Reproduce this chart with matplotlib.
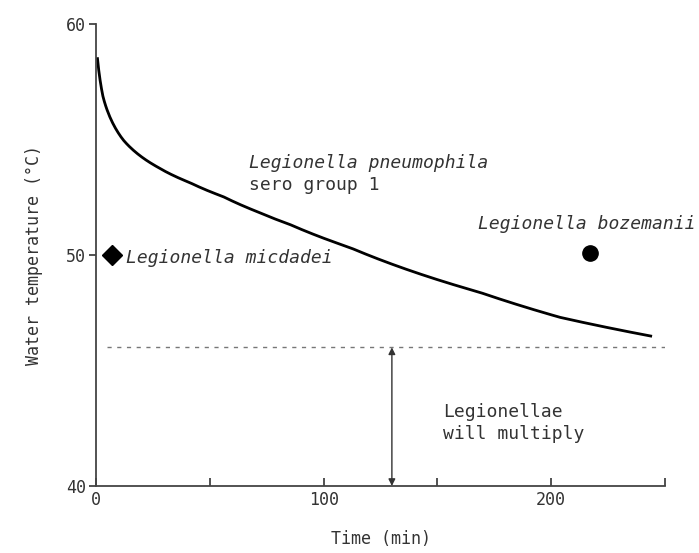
import numpy as np
import matplotlib
matplotlib.use('Agg')
import matplotlib.pyplot as plt

# cooling curve of the water
time_min = [0.6, 3.1, 11.9, 26.8, 41.3, 55.8, 70.7, 85.2, 111.6, 168.7, 203.9, 244.3]
water_temp = [58.56, 56.85, 54.99, 53.82, 53.13, 52.53, 51.88, 51.32, 50.32, 48.38, 47.30, 46.48]

# species points
micdadei_t, micdadei_T = 7, 50.0
bozemanii_t, bozemanii_T = 217, 50.1

# threshold below which legionellae multiply
multiply_T = 46.0
arrow_t = 130

x_ticks = [0, 50, 100, 150, 200, 250]
x_labels = ['0', '', '100', '', '200', '']
y_ticks = [40, 50, 60]

plt.rcParams['font.family'] = ['DejaVu Sans Mono', 'DejaVu Sans']

# smooth the read points a bit, interpolating in log time
t_arr = np.array(time_min)
T_arr = np.array(water_temp)
t_fine = np.linspace(t_arr[0], t_arr[-1], 400)
T_fine = np.interp(np.log(t_fine + 1.5), np.log(t_arr + 1.5), T_arr)

fig = plt.figure(figsize=(6.99, 5.53), dpi=100)
ax = fig.add_axes([0.1373, 0.1212, 0.8141, 0.8354])

ax.plot(t_fine, T_fine, color='black', lw=2.0, solid_capstyle='butt')
ax.plot([5, 250], [multiply_T, multiply_T], color='#777777', lw=1.0, linestyle=(0, (3, 4)))

ax.plot(micdadei_t, micdadei_T, marker='D', color='black', markersize=10.5)
ax.plot(bozemanii_t, bozemanii_T, marker='o', color='black', markersize=11)

ax.annotate('', xy=(arrow_t, 40.0), xytext=(arrow_t, multiply_T),
            arrowprops=dict(arrowstyle='<|-|>', color='#333333', lw=1.0,
                            mutation_scale=10, shrinkA=0, shrinkB=0))

txt = '#333333'
fs = 13
ax.text(67.2, 53.98, 'Legionella pneumophila', style='italic', fontsize=fs,
        color=txt, va='center', ha='left')
ax.text(67.2, 53.03, 'sero group 1', fontsize=fs, color=txt, va='center', ha='left')
ax.text(13.0, 49.87, 'Legionella micdadei', style='italic', fontsize=fs,
        color=txt, va='center', ha='left')
ax.text(167.8, 51.34, 'Legionella bozemanii', style='italic', fontsize=fs,
        color=txt, va='center', ha='left', clip_on=False)
ax.text(152.5, 43.2, 'Legionellae', fontsize=fs, color=txt, va='center', ha='left')
ax.text(152.5, 42.25, 'will multiply', fontsize=fs, color=txt, va='center', ha='left')

ax.set_xlim(0, 250)
ax.set_ylim(40, 60)
ax.set_xticks(x_ticks)
ax.set_xticklabels(x_labels)
ax.set_yticks(y_ticks)
ax.tick_params(direction='in', length=6, width=1.2, labelsize=12, colors='#333333')
ax.tick_params(axis='y', direction='out', length=5, pad=2)
ax.spines['top'].set_visible(False)
ax.spines['right'].set_visible(False)
for s in ['left', 'bottom']:
    ax.spines[s].set_linewidth(1.3)
    ax.spines[s].set_color('#444444')

ax.set_xlabel('Time (min)', fontsize=12, color=txt, labelpad=15)
ax.set_ylabel('Water temperature (°C)', fontsize=12, color=txt, labelpad=17)

plt.savefig('out.png', dpi=100)
